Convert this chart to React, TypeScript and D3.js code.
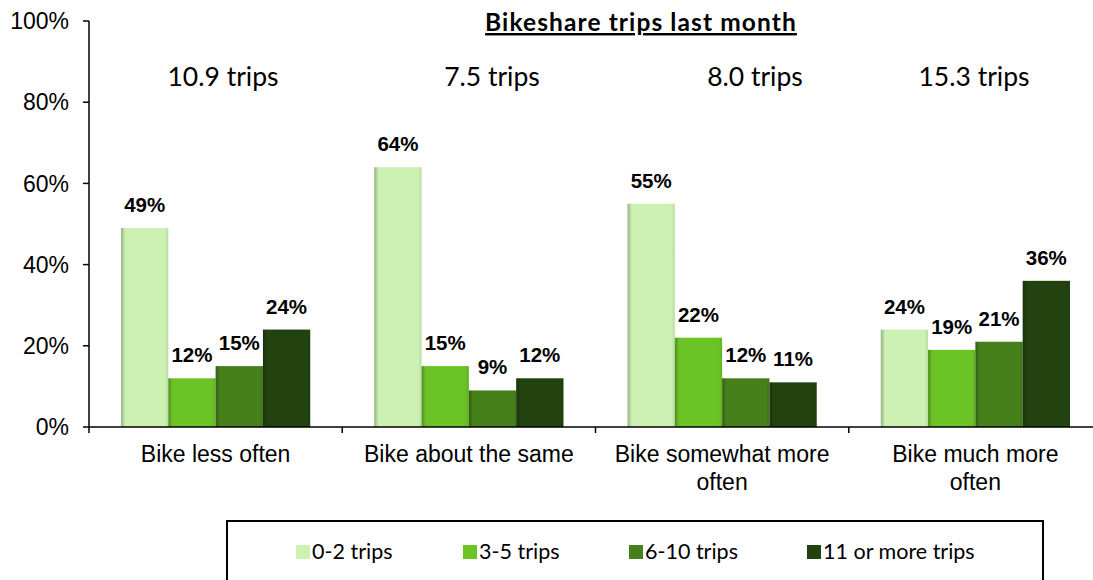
import { useEffect, useRef } from 'react';
import * as d3 from 'd3';

const CATEGORIES = ['Bike less often', 'Bike about the same', 'Bike somewhat more often', 'Bike much more often'];
const CATEGORY_LINES = [['Bike less often'], ['Bike about the same'], ['Bike somewhat more', 'often'], ['Bike much more', 'often']];
const SERIES = ['0-2 trips', '3-5 trips', '6-10 trips', '11 or more trips'];
const COLORS = ['#ccf1b3', '#6bc325', '#46801b', '#22430f'];
// values[series][category]
const VALUES = [
  [49, 64, 55, 24],
  [12, 15, 22, 19],
  [15, 9, 12, 21],
  [24, 12, 11, 36],
];
const TRIP_AVG = ['10.9 trips', '7.5 trips', '8.0 trips', '15.3 trips'];
const TRIP_X = [223, 492, 755, 974];
const Y_TICKS = [0, 20, 40, 60, 80, 100];
const LEGEND_X = [296, 463, 629, 807];

const W = 1093;
const H = 580;

export default function App() {
  const svgRef = useRef<SVGSVGElement>(null);

  useEffect(() => {
    const svg = d3.select(svgRef.current);
    svg.selectAll('*').remove();

    const axisFont = '"Liberation Sans", Arial, sans-serif';
    const cal = 'Lato, "Open Sans", sans-serif';

    const x0 = d3.scaleBand<string>().domain(CATEGORIES).range([89, 1102]).padding(0);
    const x1 = d3.scaleBand<string>().domain(SERIES).range([0, x0.bandwidth()])
      .paddingInner(0).paddingOuter(0.677);
    const y = d3.scaleLinear().domain([0, 100]).range([427, 21]);

    // gradients for the bevelled bars
    const defs = svg.append('defs');
    COLORS.forEach((c, i) => {
      const g = defs.append('linearGradient').attr('id', `bar${i}`)
        .attr('x1', 0).attr('x2', 1).attr('y1', 0).attr('y2', 0);
      const dark = d3.color(c)!.darker(0.9).formatHex();
      const mid = d3.color(c)!.darker(0.25).formatHex();
      g.append('stop').attr('offset', '0%').attr('stop-color', dark);
      g.append('stop').attr('offset', '9%').attr('stop-color', c);
      g.append('stop').attr('offset', '92%').attr('stop-color', c);
      g.append('stop').attr('offset', '100%').attr('stop-color', mid);
    });

    // y axis
    const yAxis = svg.append('g');
    yAxis.append('line').attr('x1', 89).attr('x2', 89).attr('y1', y(100)).attr('y2', y(0))
      .attr('stroke', '#000').attr('stroke-width', 1.5);
    Y_TICKS.forEach(t => {
      yAxis.append('line').attr('x1', 83).attr('x2', 89).attr('y1', y(t)).attr('y2', y(t))
        .attr('stroke', '#000').attr('stroke-width', 1.5);
      yAxis.append('text').attr('x', 69).attr('y', y(t)).attr('dy', '0.36em')
        .attr('text-anchor', 'end').attr('font-family', axisFont).attr('font-size', 23)
        .text(`${t}%`);
    });

    // bars
    SERIES.forEach((s, si) => {
      svg.append('g').selectAll('rect').data(VALUES[si]).join('rect')
        .attr('x', (_, ci) => x0(CATEGORIES[ci])! + x1(s)!)
        .attr('width', x1.bandwidth())
        .attr('y', d => y(d))
        .attr('height', d => y(0) - y(d))
        .attr('fill', `url(#bar${si})`);
      svg.append('g').selectAll('text').data(VALUES[si]).join('text')
        .attr('x', (_, ci) => x0(CATEGORIES[ci])! + x1(s)! + x1.bandwidth() / 2)
        .attr('y', d => y(d) - 16)
        .attr('text-anchor', 'middle').attr('font-family', axisFont)
        .attr('font-weight', 'bold').attr('font-size', 20.5)
        .text(d => `${d}%`);
    });

    // x axis
    const xAxis = svg.append('g');
    xAxis.append('line').attr('x1', 89).attr('x2', W).attr('y1', y(0)).attr('y2', y(0))
      .attr('stroke', '#000').attr('stroke-width', 1.5);
    CATEGORIES.forEach((c, ci) => {
      const bx = x0(c)!;
      xAxis.append('line').attr('x1', bx).attr('x2', bx).attr('y1', y(0)).attr('y2', y(0) + 6)
        .attr('stroke', '#000').attr('stroke-width', 1.5);
      const t = xAxis.append('text').attr('text-anchor', 'middle')
        .attr('font-family', axisFont).attr('font-size', 23);
      CATEGORY_LINES[ci].forEach((ln, li) => {
        t.append('tspan').attr('x', bx + x0.bandwidth() / 2).attr('y', 462 + li * 28).text(ln);
      });
    });

    // title and averages
    svg.append('text').attr('x', 641).attr('y', 31).attr('text-anchor', 'middle')
      .attr('font-family', cal).attr('font-weight', 'bold').attr('font-size', 24.5)
      .attr('letter-spacing', 1.1)
      .attr('text-decoration', 'underline').text('Bikeshare trips last month');
    TRIP_AVG.forEach((t, i) => {
      svg.append('text').attr('x', TRIP_X[i]).attr('y', 86).attr('text-anchor', 'middle')
        .attr('font-family', cal).attr('font-size', 26.5).text(t);
    });

    // legend
    const lg = svg.append('g');
    lg.append('rect').attr('x', 227).attr('y', 521).attr('width', 816).attr('height', 100)
      .attr('fill', 'none').attr('stroke', '#000').attr('stroke-width', 2);
    SERIES.forEach((s, i) => {
      lg.append('rect').attr('x', LEGEND_X[i]).attr('y', 545).attr('width', 14).attr('height', 14)
        .attr('fill', COLORS[i]);
      lg.append('text').attr('x', LEGEND_X[i] + 16).attr('y', 559)
        .attr('font-family', cal).attr('font-size', 21.5).text(s);
    });
  }, []);

  return (
    <svg ref={svgRef} width={W} height={H}
      style={{ position: 'absolute', left: 0, top: 0, background: '#fff' }} />
  );
}
